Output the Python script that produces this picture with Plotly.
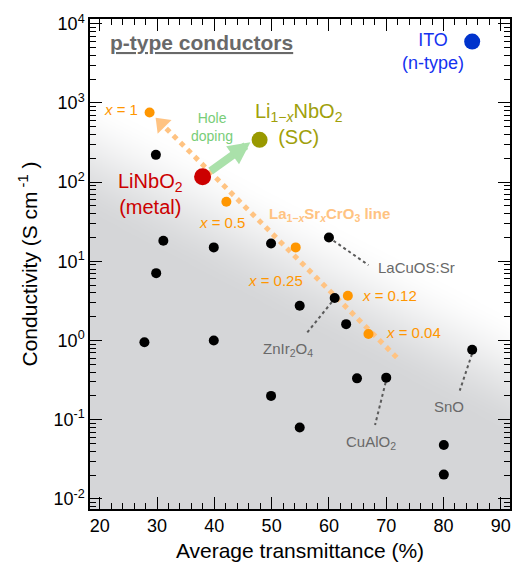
import math
import numpy as np
import plotly.graph_objects as go

# ---------------- data ----------------
other_T = [29.8, 31.1, 39.9, 29.85, 49.9, 60.0, 54.9, 61.0, 63.0, 85.0,
           27.8, 39.9, 49.9, 54.9, 64.9, 70.0, 80.05, 80.05]
other_S = [221, 18.2, 15.0, 7.1, 16.8, 20.0, 2.75, 3.44, 1.61, 0.766,
           0.95, 1.0, 0.2, 0.08, 0.333, 0.34, 0.048, 0.0203]

la_T = [28.7, 42.1, 54.2, 63.3, 66.9]
la_S = [757, 56.5, 15.0, 3.68, 1.21]
la_labels = ["<i>x</i> = 1", "<i>x</i> = 0.5", "<i>x</i> = 0.25", "<i>x</i> = 0.12", "<i>x</i> = 0.04"]

linbo2_T, linbo2_S = [37.95], [117]
sc_T, sc_S = [47.9], [342]
ito_T, ito_S = [85.0], [5960]

# trend line of La1-xSrxCrO3 (start/end) and arrowhead position
trend_T = [31.6, 72.0]
trend_S = [477, 0.596]
arrowhead_T, arrowhead_S = [30.8], [545]

# hole-doping arrow (tail -> tip)
dope_T = [39.1, 46.3]
dope_S = [134, 318]

# leader lines (point -> label)
leaders = {
    "LaCuOS:Sr": ([60.8, 66.9], [18.2, 8.97]),
    "ZnIr2O4": ([60.5, 56.0], [3.06, 1.21]),
    "CuAlO2": ([69.9, 68.05], [0.297, 0.0859]),
    "SnO": ([84.96, 82.83], [0.676, 0.233]),
}

x_ticks = [20, 30, 40, 50, 60, 70, 80, 90]
y_exps = [-2, -1, 0, 1, 2, 3, 4]
y_ticks = [10.0 ** e for e in y_exps]
y_ticktext = ["10<sup>%d</sup>" % e for e in y_exps]

x_range = [18.3, 91.6]
y_range = [-2.127, 4.06]

FONT = "Liberation Sans, Arial, sans-serif"
ORANGE = "rgb(255,150,0)"
LIGHT_OR = "rgb(255,195,130)"
GRAY_TXT = "rgb(105,105,105)"

fig = go.Figure()

# ---------------- gradient background ----------------
nx, ny = 160, 160
u = np.linspace(0, 1, nx)
v = np.linspace(0, 1, ny)           # v=0 bottom, 1 top
U, V = np.meshgrid(u, v)
px = U * 422
py = (1 - V) * 490
mid = 136 + 0.52 * px
t = (py - mid) / 65.0
g = np.clip((t + 1) / 2, 0, 1)
g = g * g * (3 - 2 * g)
hx = x_range[0] + u * (x_range[1] - x_range[0])
hy = 10 ** (y_range[0] + v * (y_range[1] - y_range[0]))
fig.add_trace(go.Heatmap(x=hx, y=hy, z=g, zmin=0, zmax=1, zsmooth="best",
                         colorscale=[[0, "rgb(255,255,255)"], [1, "rgb(213,214,216)"]],
                         showscale=False, hoverinfo="skip"))

# ---------------- lines ----------------
fig.add_trace(go.Scatter(x=trend_T, y=trend_S, mode="lines",
                         line=dict(color=LIGHT_OR, width=5, dash="dot"), hoverinfo="skip"))
fig.add_trace(go.Scatter(x=arrowhead_T, y=arrowhead_S, mode="markers",
                         marker=dict(symbol="triangle-up", size=17, angle=-45, color=LIGHT_OR,
                                     line=dict(width=0)), hoverinfo="skip"))
for name, (lx, ly) in leaders.items():
    fig.add_trace(go.Scatter(x=lx, y=ly, mode="lines",
                             line=dict(color="rgb(90,90,90)", width=2, dash="dot"), hoverinfo="skip"))

# ---------------- points ----------------
fig.add_trace(go.Scatter(x=other_T, y=other_S, mode="markers",
                         marker=dict(color="black", size=10)))
fig.add_trace(go.Scatter(x=la_T, y=la_S, mode="markers",
                         marker=dict(color=ORANGE, size=10)))

# hole doping arrow
fig.add_annotation(x=dope_T[1], y=math.log10(dope_S[1]), ax=dope_T[0], ay=math.log10(dope_S[0]),
                   xref="x", yref="y", axref="x", ayref="y", text="", showarrow=True,
                   arrowhead=2, arrowsize=0.55, arrowwidth=8, arrowcolor="rgb(170,225,170)")

fig.add_trace(go.Scatter(x=linbo2_T, y=linbo2_S, mode="markers",
                         marker=dict(color="rgb(204,0,0)", size=17)))
fig.add_trace(go.Scatter(x=sc_T, y=sc_S, mode="markers",
                         marker=dict(color="rgb(153,153,0)", size=16)))
fig.add_trace(go.Scatter(x=ito_T, y=ito_S, mode="markers",
                         marker=dict(color="rgb(0,51,204)", size=16)))


def label(x, y, text, color, size, xanchor="center", bold=False):
    if bold:
        text = "<b>" + text + "</b>"
    fig.add_annotation(x=x, y=math.log10(y), xref="x", yref="y", text=text, showarrow=False,
                       xanchor=xanchor, yanchor="middle", align="center",
                       font=dict(family=FONT, size=size, color=color))


label(37.7, 10 ** 3.767, "<u>p-type conductors</u>", "rgb(105,105,105)", 21, bold=True)
label(78.2, 10 ** 3.65, "ITO<br>(n-type)", "rgb(20,50,240)", 18)
label(26.95, 10 ** 2.921, la_labels[0], ORANGE, 15, xanchor="right")
label(39.6, 10 ** 2.694, "Hole<br>doping", "rgb(120,205,120)", 14)
label(54.7, 10 ** 2.73, "Li<sub>1−<i>x</i></sub>NbO<sub>2</sub><br>(SC)", "rgb(160,160,10)", 20)
label(28.9, 10 ** 1.85, "LiNbO<sub>2</sub><br>(metal)", "rgb(204,0,0)", 20)
label(41.4, 10 ** 1.495, la_labels[1], ORANGE, 15)
label(49.2, 10 ** 1.596, "La<sub>1−<i>x</i></sub>Sr<sub><i>x</i></sub>CrO<sub>3</sub> line", LIGHT_OR, 15,
      xanchor="left", bold=True)
label(50.6, 10 ** 0.763, la_labels[2], ORANGE, 15)
label(75.2, 10 ** 0.927, "LaCuOS:Sr", GRAY_TXT, 15)
label(70.6, 10 ** 0.574, la_labels[3], ORANGE, 15)
label(74.7, 10 ** 0.107, la_labels[4], ORANGE, 15)
label(52.8, 10 ** -0.107, "ZnIr<sub>2</sub>O<sub>4</sub>", GRAY_TXT, 15)
label(81.0, 10 ** -0.839, "SnO", GRAY_TXT, 15)
label(67.3, 10 ** -1.293, "CuAlO<sub>2</sub>", GRAY_TXT, 15)

axis_common = dict(showline=True, linecolor="black", linewidth=1.5, mirror="allticks",
                   ticks="inside", tickcolor="black", tickwidth=1.2, ticklen=12,
                   showgrid=False, zeroline=False,
                   tickfont=dict(family=FONT, size=18, color="black"))

fig.update_xaxes(range=x_range, tickmode="array", tickvals=x_ticks,
                 title=dict(text="Average transmittance (%)", font=dict(family=FONT, size=21, color="black"),
                            standoff=8),
                 minor=dict(ticks="inside", ticklen=6, tickwidth=1, tickcolor="black",
                            tickmode="array", tickvals=[v for v in range(20, 92, 2) if v % 10]),
                 **axis_common)
minor_y = [k * 10.0 ** e for e in range(-3, 5) for k in range(2, 10)]
fig.update_yaxes(type="log", range=y_range, tickmode="array", tickvals=y_ticks, ticktext=y_ticktext,
                 title=dict(text="Conductivity (S cm<sup> -1</sup> )",
                            font=dict(family=FONT, size=21, color="black"), standoff=10),
                 minor=dict(ticks="inside", ticklen=6, tickwidth=1, tickcolor="black",
                            tickmode="array", tickvals=minor_y),
                 **axis_common)

fig.update_layout(width=517, height=566, margin=dict(l=90, r=5, t=19, b=57),
                  paper_bgcolor="white", plot_bgcolor="white", showlegend=False,
                  font=dict(family=FONT))

fig.write_html("out.html")
